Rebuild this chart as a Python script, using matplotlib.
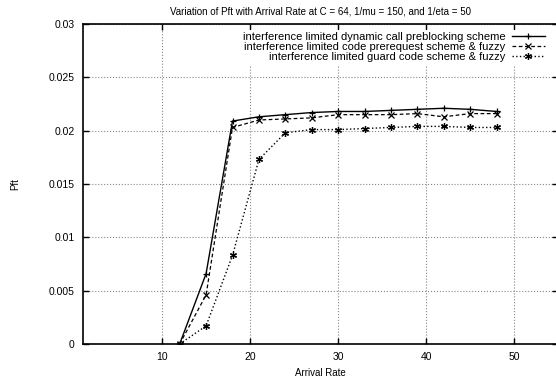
import matplotlib
matplotlib.use("Agg")
import matplotlib.pyplot as plt
from matplotlib.ticker import FormatStrFormatter

plt.rcParams['font.family'] = ['Liberation Sans', 'DejaVu Sans']

# data
arrival = [12, 15, 18, 21, 24, 27, 30, 33, 36, 39, 42, 45, 48]
dynamic = [0.0, 0.0066, 0.0209, 0.0213, 0.0215, 0.0217, 0.0218, 0.0218, 0.0219, 0.0220, 0.0221, 0.0220, 0.0218]
prereq = [0.0, 0.0046, 0.0203, 0.0210, 0.0211, 0.0212, 0.0215, 0.0215, 0.0215, 0.0216, 0.0213, 0.0216, 0.0216]
guard = [0.0, 0.0017, 0.0083, 0.0173, 0.0198, 0.0201, 0.0201, 0.0202, 0.0203, 0.0204, 0.0204, 0.0203, 0.0203]

labels = ['interference limited dynamic call preblocking scheme',
          'interference limited code prerequest scheme & fuzzy',
          'interference limited guard code scheme & fuzzy']
xticks = [10, 20, 30, 40, 50]
yticks = [0, 0.005, 0.01, 0.015, 0.02, 0.025, 0.03]

fig = plt.figure(figsize=(5.56, 3.79), dpi=100)
ax = fig.add_axes([0.149, 0.0923, 0.855, 0.8444])

ax.plot(arrival, dynamic, '-', color='black', lw=1, marker='+', ms=5, mew=0.9, label=labels[0])
ax.plot(arrival, prereq, '--', color='black', lw=0.9, marker='x', ms=4.5, mew=0.9,
        dashes=(3, 2), label=labels[1])
ax.plot(arrival, guard, ':', color='black', lw=1, marker=(6, 2, 0), ms=5, mew=0.9, label=labels[2])

ax.set_xlim(1, 55)
ax.set_ylim(0, 0.03)
ax.set_xticks(xticks)
ax.set_yticks(yticks)
ax.yaxis.set_major_formatter(FormatStrFormatter('%g'))
ax.tick_params(direction='in', top=True, right=True, length=4, width=1, labelsize=7.5, pad=6)
for s in ax.spines.values():
    s.set_linewidth(1.2)
ax.grid(True, linestyle=':', color='#888888', lw=0.8)
ax.set_axisbelow(True)

ax.set_title('Variation of Pft with Arrival Rate at C = 64, 1/mu = 150, and 1/eta = 50', fontsize=7, pad=7)
ax.set_xlabel('Arrival Rate', fontsize=7, labelpad=4)
ax.set_ylabel('Pft', fontsize=7, labelpad=20)

leg = ax.legend(loc='upper right', bbox_to_anchor=(0.99, 1.0), markerfirst=False, frameon=True,
                fontsize=8, handlelength=3.0, borderpad=0.25, labelspacing=0.0, handletextpad=0.6)
leg.get_frame().set_edgecolor('none')
leg.get_frame().set_alpha(1)
for t in leg.get_texts():
    t.set_ha('right')
leg._legend_box.align = 'right'

fig.savefig('out.png', dpi=100)
